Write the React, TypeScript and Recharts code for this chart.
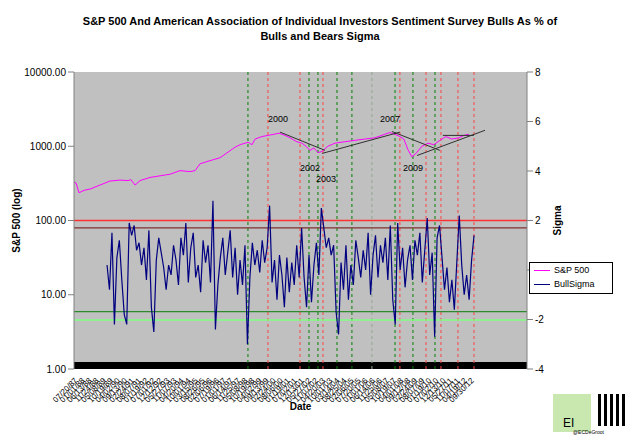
import React from 'react';
import { ComposedChart, Line, XAxis, YAxis, CartesianGrid, ReferenceLine, ReferenceArea } from 'recharts';

// S&P 500 weekly close (sampled), x in decimal years
const spxYears = [1987.55, 1987.68, 1987.87, 1988.19, 1988.57, 1989.2, 1989.84, 1990.47, 1990.98, 1991.17, 1991.43, 1991.75, 1992.38, 1993.02, 1993.66, 1994.29, 1994.93, 1995.25, 1995.56, 1996.2, 1996.83, 1997.47, 1997.79, 1998.11, 1998.43, 1998.62, 1998.87, 1999.06, 1999.5, 1999.88, 2000.26, 2000.58, 2000.96, 2001.28, 2001.72, 2002.04, 2002.3, 2002.55, 2002.8, 2003.06, 2003.31, 2003.69, 2004.14, 2004.77, 2005.41, 2006.04, 2006.68, 2007.31, 2007.63, 2007.95, 2008.27, 2008.52, 2008.78, 2009.03, 2009.29, 2009.67, 2010.05, 2010.43, 2010.81, 2011.19, 2011.57, 2012.02, 2012.34, 2012.66];
const spxValues = [330, 320, 236, 255, 265, 300, 340, 350, 345, 355, 300, 345, 380, 400, 420, 470, 455, 470, 580, 640, 700, 870, 970, 1050, 1100, 1130, 1050, 1250, 1350, 1400, 1450, 1500, 1400, 1300, 1150, 1100, 1000, 880, 950, 820, 850, 1000, 1100, 1150, 1200, 1250, 1300, 1450, 1530, 1450, 1350, 1250, 900, 720, 800, 1000, 1100, 1050, 1200, 1350, 1250, 1300, 1400, 1450];

// AAII bulls as % of bulls and bears, in sigma
const sigmaStart = 1989.65;
const sigmaStep = 0.1566;
const sigmaValues = [
  0.2, -0.8, 1.5, -2.2, 0.5, 1.2, -0.4, -1.8, -2.2, 1.9, 1.4, 1.8, 0.8, 1.1, 0.2, 0.9, -0.4, 1.6, -1.5, -2.5,
  0.4, 1.3, 0.7, 0.1, -0.8, 0.2, -0.2, 1.0, 0.4, -0.6, 1.3, 0.6, 1.9, -0.5, 0.9, 1.5, -0.3, 0.2, -0.9, 1.2,
  0.3, 1.0, -0.5, 2.8, -2.4, -0.6, 0.5, 1.3, -0.2, 0.7, 1.6, -0.3, 0.9, -1.0, 0.4, -0.6, 1.0, -3.0, -0.3, 1.1,
  0.2, 0.8, -0.1, 1.2, 0.3, 0.9, 2.6, -0.5, 0.4, -1.2, 0.6, -0.2, -1.5, 0.5, -0.9, 0.3, -0.6, 1.0, -0.3, 1.7,
  -0.3, -1.5, 0.6, -1.3, 0.2, 1.1, -0.2, 2.5, 1.7, 0.9, 1.3, 0.6, 1.0, -1.7, -2.6, 0.3, -0.8, 1.0, -1.2, 0.2,
  -0.6, 1.2, 0.5, -0.3, 0.8, 0.0, 1.5, -1.0, 0.6, 1.4, -0.3, 1.0, 0.3, 1.3, -0.4, 1.8, -1.2, -2.2, 1.9, 0.0,
  0.9, -0.7, 0.4, 1.0, -0.4, 1.2, 0.6, 1.5, -0.5, 0.8, 2.1, -0.2, 0.7, -2.7, 1.3, 1.8, 0.5, -0.8, 0.1, -1.3,
  -0.4, -1.6, 0.3, 2.2, 0.2, -1.0, -0.2, -1.2, 0.4, 1.4,
];

const greenEvents = [1998.61, 2002.49, 2003.06, 2004.27, 2005.22, 2007.96, 2009.1, 2010.5];
const redEvents = [1999.88, 2001.92, 2003.38, 2008.27, 2009.93, 2010.88, 2011.96, 2012.98];
const grayEvents = [2006.49];

const sigmaLevels = [
  { y: 2, color: '#ff3030' },
  { y: 1.7, color: '#803030' },
  { y: -1.68, color: '#2f8a2f' },
  { y: -2.02, color: '#80ff80' },
];

const trendLines = [
  [[2000.65, 1550], [2003.51, 880]],
  [[2003.32, 800], [2008.27, 1550]],
  [[2007.76, 1580], [2010.81, 880]],
  [[2009.36, 750], [2013.68, 1640]],
  [[2011.0, 1400], [2012.97, 1400]],
];

const yearLabels = [
  { text: '2000', left: 268, top: 114 },
  { text: '2002', left: 300, top: 163 },
  { text: '2003', left: 316, top: 174 },
  { text: '2007', left: 380, top: 114 },
  { text: '2009', left: 403, top: 163 },
];

const dateTicks = [
  1987.55, 1988.0, 1988.45, 1988.9, 1989.35, 1989.8, 1990.25, 1990.7, 1991.15, 1991.6, 1992.05, 1992.5,
  1992.95, 1993.4, 1993.85, 1994.3, 1994.75, 1995.2, 1995.65, 1996.1, 1996.55, 1997.0, 1997.45, 1997.9,
  1998.35, 1998.8, 1999.25, 1999.7, 2000.15, 2000.6, 2001.05, 2001.5, 2001.95, 2002.4, 2002.85, 2003.3,
  2003.75, 2004.2, 2004.65, 2005.1, 2005.55, 2006.0, 2006.45, 2006.9, 2007.35, 2007.8, 2008.25, 2008.7,
  2009.15, 2009.6, 2010.05, 2010.5, 2010.95, 2011.4, 2011.85, 2012.3, 2012.75,
];

const spxData = spxYears.map((t, i) => ({ t, spx: spxValues[i] }));
const sigmaData = sigmaValues.map((s, i) => ({ t: sigmaStart + i * sigmaStep, sigma: s }));

const font = '"Liberation Sans", Arial, sans-serif';

const fmtDate = (t: number) => {
  const y = Math.floor(t);
  const day = Math.floor((t - y) * 365);
  const d = new Date(Date.UTC(y, 0, 1 + day));
  const mm = String(d.getUTCMonth() + 1).padStart(2, '0');
  const dd = String(d.getUTCDate()).padStart(2, '0');
  return `${mm}/${dd}/${String(y % 100).padStart(2, '0')}`;
};

const App: React.FC = () => {
  return (
    <div style={{ position: 'absolute', left: 0, top: 0, width: 640, height: 438, background: '#fff', fontFamily: font }}>
      <div style={{ position: 'absolute', top: 14, left: 0, width: 640, textAlign: 'center', fontSize: 11, fontWeight: 'bold', lineHeight: '15px' }}>
        S&amp;P 500 And American Association of Individual Investors Sentiment Survey Bulls As % of<br />Bulls and Bears Sigma
      </div>
      <ComposedChart width={640} height={438} margin={{ top: 72, right: 83, left: 14, bottom: 0 }} style={{ position: 'absolute', left: 0, top: 0 }}>
        <CartesianGrid fill="#c0c0c0" horizontal={false} vertical={false} yAxisId="l" />
        <XAxis
          type="number"
          dataKey="t"
          domain={[1987.55, 2016.35]}
          ticks={dateTicks}
          tickFormatter={fmtDate}
          interval={0}
          angle={-45}
          textAnchor="end"
          height={69}
          tick={{ fontSize: 8, fill: '#000', fontFamily: font }}
          tickLine={false}
          axisLine={false}
          allowDuplicatedCategory={false}
          label={{ value: 'Date', position: 'insideBottom', offset: 28, style: { fontSize: 10, fontWeight: 'bold', fill: '#000' } }}
        />
        <YAxis
          yAxisId="l"
          scale="log"
          domain={[1, 10000]}
          ticks={[1, 10, 100, 1000, 10000]}
          allowDataOverflow
          tickFormatter={(v: number) => v.toFixed(2)}
          width={60}
          tick={{ fontSize: 10, fill: '#000', fontFamily: font }}
          axisLine={{ stroke: '#808080' }}
          tickLine={{ stroke: '#808080' }}
          label={{ value: 'S&P 500 (log)', angle: -90, position: 'insideLeft', offset: 2, style: { fontSize: 10, fontWeight: 'bold', fill: '#000', textAnchor: 'middle' } }}
        />
        <YAxis
          yAxisId="r"
          orientation="right"
          domain={[-4, 8]}
          ticks={[-4, -2, 0, 2, 4, 6, 8]}
          width={30}
          tick={{ fontSize: 10, fill: '#000', fontFamily: font }}
          axisLine={{ stroke: '#808080' }}
          tickLine={{ stroke: '#808080' }}
          label={{ value: 'Sigma', angle: -90, position: 'insideRight', offset: 0, style: { fontSize: 10, fontWeight: 'bold', fill: '#000', textAnchor: 'middle' } }}
        />
        <ReferenceArea yAxisId="l" y1={1} y2={1.24} fill="#000" fillOpacity={1} stroke="none" />
        {greenEvents.map((x) => (
          <ReferenceLine key={'g' + x} yAxisId="l" x={x} stroke="#008000" strokeDasharray="3 3" />
        ))}
        {redEvents.map((x) => (
          <ReferenceLine key={'r' + x} yAxisId="l" x={x} stroke="#ff4040" strokeDasharray="3 3" />
        ))}
        {grayEvents.map((x) => (
          <ReferenceLine key={'a' + x} yAxisId="l" x={x} stroke="#90a890" strokeDasharray="3 3" />
        ))}
        {sigmaLevels.map((lv) => (
          <ReferenceLine key={'s' + lv.y} yAxisId="r" y={lv.y} stroke={lv.color} strokeWidth={1.3} ifOverflow="visible" />
        ))}
        <Line yAxisId="r" data={sigmaData} dataKey="sigma" stroke="#000080" strokeWidth={1.2} dot={false} isAnimationActive={false} />
        <Line yAxisId="l" data={spxData} dataKey="spx" stroke="#ff00ff" strokeWidth={1} dot={false} isAnimationActive={false} />
        {trendLines.map((seg, i) => (
          <ReferenceLine
            key={'t' + i}
            yAxisId="l"
            segment={[{ x: seg[0][0], y: seg[0][1] }, { x: seg[1][0], y: seg[1][1] }]}
            stroke="#303030"
          />
        ))}
      </ComposedChart>
      {yearLabels.map((l) => (
        <div key={l.text} style={{ position: 'absolute', left: l.left, top: l.top, fontSize: 9, color: '#000' }}>{l.text}</div>
      ))}
      <div style={{ position: 'absolute', left: 529, top: 262, width: 82, height: 30, background: '#fff', border: '1px solid #000', fontSize: 9 }}>
        <div style={{ display: 'flex', alignItems: 'center', height: 14 }}>
          <span style={{ display: 'inline-block', width: 16, height: 1, background: '#ff00ff', margin: '0 4px' }} />S&amp;P 500
        </div>
        <div style={{ display: 'flex', alignItems: 'center', height: 14 }}>
          <span style={{ display: 'inline-block', width: 16, height: 1, background: '#000080', margin: '0 4px' }} />BullSigma
        </div>
      </div>
      <div style={{ position: 'absolute', left: 553, top: 394, width: 38, height: 38, background: '#c8e8b0' }}>
        <div style={{ position: 'absolute', left: 10, top: 22, fontSize: 12 }}>EI</div>
      </div>
      <div style={{ position: 'absolute', left: 598, top: 394, width: 30, height: 32, background: 'repeating-linear-gradient(90deg,#000 0 3px,#fff 3px 6px)' }} />
      <div style={{ position: 'absolute', left: 573, top: 429, fontSize: 5 }}>@ECDeGroot</div>
    </div>
  );
};

export default App;
